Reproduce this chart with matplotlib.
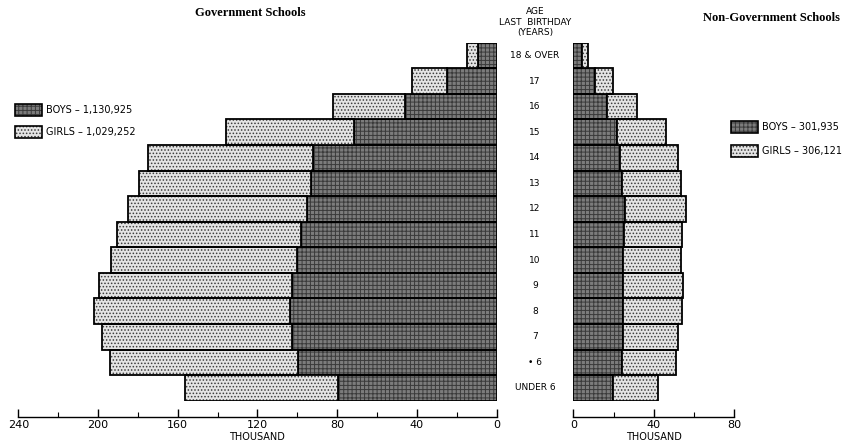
import numpy as np
import matplotlib.pyplot as plt
from matplotlib.patches import Rectangle
from matplotlib.transforms import blended_transform_factory

# age groups, top to bottom
ages = ["18 & OVER", "17", "16", "15", "14", "13", "12", "11", "10", "9", "8", "7", "• 6", "UNDER 6"]

# Government schools (thousand)
gov_boys = [9.1, 25.0, 45.9, 71.5, 91.9, 93.3, 95.3, 98.3, 100.3, 102.5, 103.6, 102.8, 99.8, 79.4]
gov_girls = [5.9, 17.6, 36.3, 64.3, 82.9, 86.1, 89.8, 92.3, 93.3, 96.8, 98.3, 95.3, 94.2, 76.9]

# Non-government schools (thousand)
ngov_boys = [4.2, 10.8, 16.6, 21.9, 23.2, 24.1, 25.7, 25.2, 24.6, 24.9, 24.9, 24.6, 24.1, 19.9]
ngov_girls = [3.3, 9.1, 14.9, 24.1, 28.7, 29.5, 30.4, 29.0, 28.8, 29.8, 29.0, 27.6, 26.8, 22.1]

gov_legend = ["BOYS – 1,130,925", "GIRLS – 1,029,252"]
ngov_legend = ["BOYS – 301,935", "GIRLS – 306,121"]

plt.rcParams['hatch.linewidth'] = 0.7
plt.rcParams['font.family'] = ['DejaVu Sans']

BOYS_FC, BOYS_HC, BOYS_H = "#7c7c7c", "#3a3a3a", "++++"
GIRLS_FC, GIRLS_HC, GIRLS_H = "#e4e4e4", "#3c3c3c", "....."

fig = plt.figure(figsize=(8.44, 4.42), dpi=100)
ax_l = fig.add_axes([0.0217, 0.0934, 0.5666, 0.81])
ax_r = fig.add_axes([0.6793, 0.0934, 0.1904, 0.81])

y = np.arange(len(ages))


def draw_bars(ax, left, width, fc, hc, hatch):
    ax.barh(y, width, left=left, height=1.0, color=fc, edgecolor=hc, hatch=hatch, linewidth=0)
    ax.barh(y, width, left=left, height=1.0, fill=False, edgecolor="black", linewidth=1.3)


draw_bars(ax_l, 0, gov_boys, BOYS_FC, BOYS_HC, BOYS_H)
draw_bars(ax_l, gov_boys, gov_girls, GIRLS_FC, GIRLS_HC, GIRLS_H)
draw_bars(ax_r, 0, ngov_boys, BOYS_FC, BOYS_HC, BOYS_H)
draw_bars(ax_r, ngov_boys, ngov_girls, GIRLS_FC, GIRLS_HC, GIRLS_H)

for ax, lim, step in [(ax_l, (240, 0), 40), (ax_r, (0, 80), 40)]:
    ax.set_xlim(*lim)
    ax.set_ylim(len(ages) - 0.5, -0.5)
    hi = max(lim)
    ax.set_xticks(np.arange(0, hi + 1, step))
    ax.set_xticks(np.arange(0, hi + 1, step / 2), minor=True)
    for s in ["top", "left", "right"]:
        ax.spines[s].set_visible(False)
    ax.spines["bottom"].set_position(("outward", 11.5))
    ax.spines["bottom"].set_linewidth(1.0)
    ax.tick_params(axis="x", which="major", direction="in", length=6, width=1.0, pad=2.5, labelsize=8)
    ax.tick_params(axis="x", which="minor", direction="in", length=3.5, width=0.8)
    ax.set_yticks([])
    ax.set_xlabel("THOUSAND", fontsize=7, labelpad=1)
    ax.set_facecolor("none")

# age labels in the middle
trans = blended_transform_factory(fig.transFigure, ax_l.transData)
for i, a in enumerate(ages):
    ax_l.text(535 / 844, i, a, transform=trans, ha="center", va="center", fontsize=6.5, clip_on=False)
for txt, yy in [("AGE", 12), ("LAST  BIRTHDAY", 22.5), ("(YEARS)", 33)]:
    fig.text(535 / 844, 1 - yy / 442, txt, ha="center", va="center", fontsize=6.5)

# titles
fig.text(250 / 844, 1 - 13 / 442, "Government Schools", ha="center", va="center",
         fontsize=9, fontweight="bold", family="Liberation Serif")
fig.text(771 / 844, 1 - 18 / 442, "Non-Government Schools", ha="center", va="center",
         fontsize=9, fontweight="bold", family="Liberation Serif")


def legend(x, ys, labels):
    for yy, lab, (fc, hc, h) in zip(ys, labels, [(BOYS_FC, BOYS_HC, BOYS_H), (GIRLS_FC, GIRLS_HC, GIRLS_H)]):
        fig.patches.append(Rectangle((x / 844, 1 - (yy + 6) / 442), 27 / 844, 12 / 442,
                                     transform=fig.transFigure, facecolor=fc, edgecolor=hc,
                                     hatch=h, linewidth=0))
        fig.patches.append(Rectangle((x / 844, 1 - (yy + 6) / 442), 27 / 844, 12 / 442,
                                     transform=fig.transFigure, fill=False, edgecolor="black",
                                     linewidth=1.2))
        fig.text((x + 31) / 844, 1 - yy / 442, lab, ha="left", va="center", fontsize=7)


legend(15, [110, 132], gov_legend)
legend(731, [127, 151], ngov_legend)

fig.savefig("out.png", dpi=100)
